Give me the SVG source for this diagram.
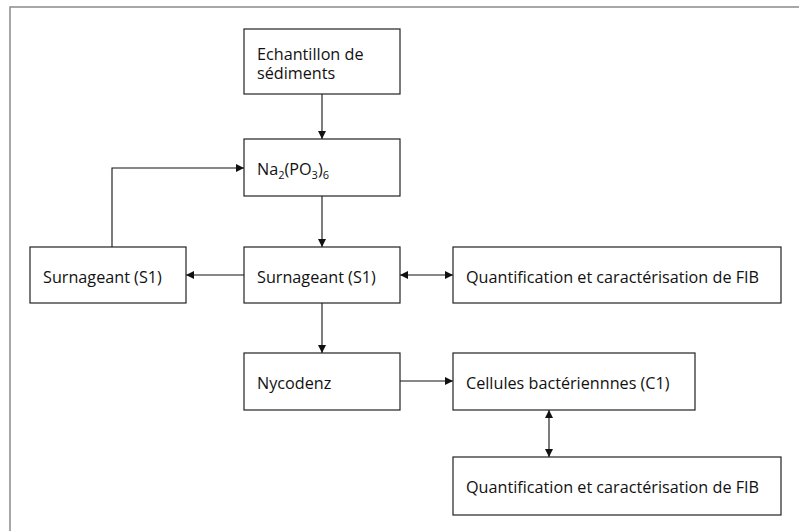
<svg xmlns="http://www.w3.org/2000/svg" width="799" height="531" viewBox="0 0 799 531">
<defs>
<style>
.frame{fill:none;stroke:#8a8a8a;stroke-width:1.5}
.box{fill:#fff;stroke:#222;stroke-width:1.2}
.lbl{font-family:"Open Sans","Noto Sans","Liberation Sans",sans-serif;font-size:16.2px;fill:#111}
.sub{font-size:11px}
.conn{fill:none;stroke:#111;stroke-width:1.1}
</style>
<marker id="ah" viewBox="0 0 10 10" refX="10" refY="5" markerWidth="8" markerHeight="8" markerUnits="userSpaceOnUse" orient="auto-start-reverse">
<path d="M0,0 L10,5 L0,10 Z" fill="#111"/>
</marker>
</defs>
<rect width="799" height="531" fill="#fff"/>
<rect class="frame" x="10" y="7" width="800" height="540"/>
<g id="connectors">
<line class="conn" x1="322" y1="94" x2="322" y2="139" marker-end="url(#ah)"/>
<line class="conn" x1="322" y1="196" x2="322" y2="247" marker-end="url(#ah)"/>
<line class="conn" x1="244" y1="275" x2="186" y2="275" marker-end="url(#ah)"/>
<line class="conn" x1="400" y1="275" x2="453" y2="275" marker-start="url(#ah)" marker-end="url(#ah)"/>
<polyline class="conn" points="112,247 112,168 244,168" marker-end="url(#ah)"/>
<line class="conn" x1="322" y1="303" x2="322" y2="353" marker-end="url(#ah)"/>
<line class="conn" x1="400" y1="381" x2="453" y2="381" marker-end="url(#ah)"/>
<line class="conn" x1="549" y1="410" x2="549" y2="457" marker-start="url(#ah)" marker-end="url(#ah)"/>
</g>
<g id="echantillon">
<rect class="box" x="244" y="29" width="156" height="65"/>
<text class="lbl" x="257" y="60">Echantillon de<tspan x="257" dy="19">sédiments</tspan></text>
</g>
<g id="na2po3">
<rect class="box" x="244" y="139" width="156" height="57"/>
<text class="lbl" x="257" y="175">Na<tspan class="sub" dy="3.5">2</tspan><tspan dy="-3.5">(PO</tspan><tspan class="sub" dy="3.5">3</tspan><tspan dy="-3.5">)</tspan><tspan class="sub" dy="3.5">6</tspan></text>
</g>
<g id="surnageant-left">
<rect class="box" x="30" y="247" width="156" height="56"/>
<text class="lbl" x="43" y="283">Surnageant (S1)</text>
</g>
<g id="surnageant-centre">
<rect class="box" x="244" y="247" width="156" height="56"/>
<text class="lbl" x="257" y="283">Surnageant (S1)</text>
</g>
<g id="quantification-1">
<rect class="box" x="453" y="247" width="328" height="56"/>
<text class="lbl" x="466" y="283">Quantification et caractérisation de FIB</text>
</g>
<g id="nycodenz">
<rect class="box" x="244" y="353" width="156" height="57"/>
<text class="lbl" x="257" y="389">Nycodenz</text>
</g>
<g id="cellules">
<rect class="box" x="453" y="353" width="242" height="57"/>
<text class="lbl" x="466" y="389">Cellules bactériennnes (C1)</text>
</g>
<g id="quantification-2">
<rect class="box" x="453" y="457" width="328" height="58"/>
<text class="lbl" x="466" y="493">Quantification et caractérisation de FIB</text>
</g>
</svg>
